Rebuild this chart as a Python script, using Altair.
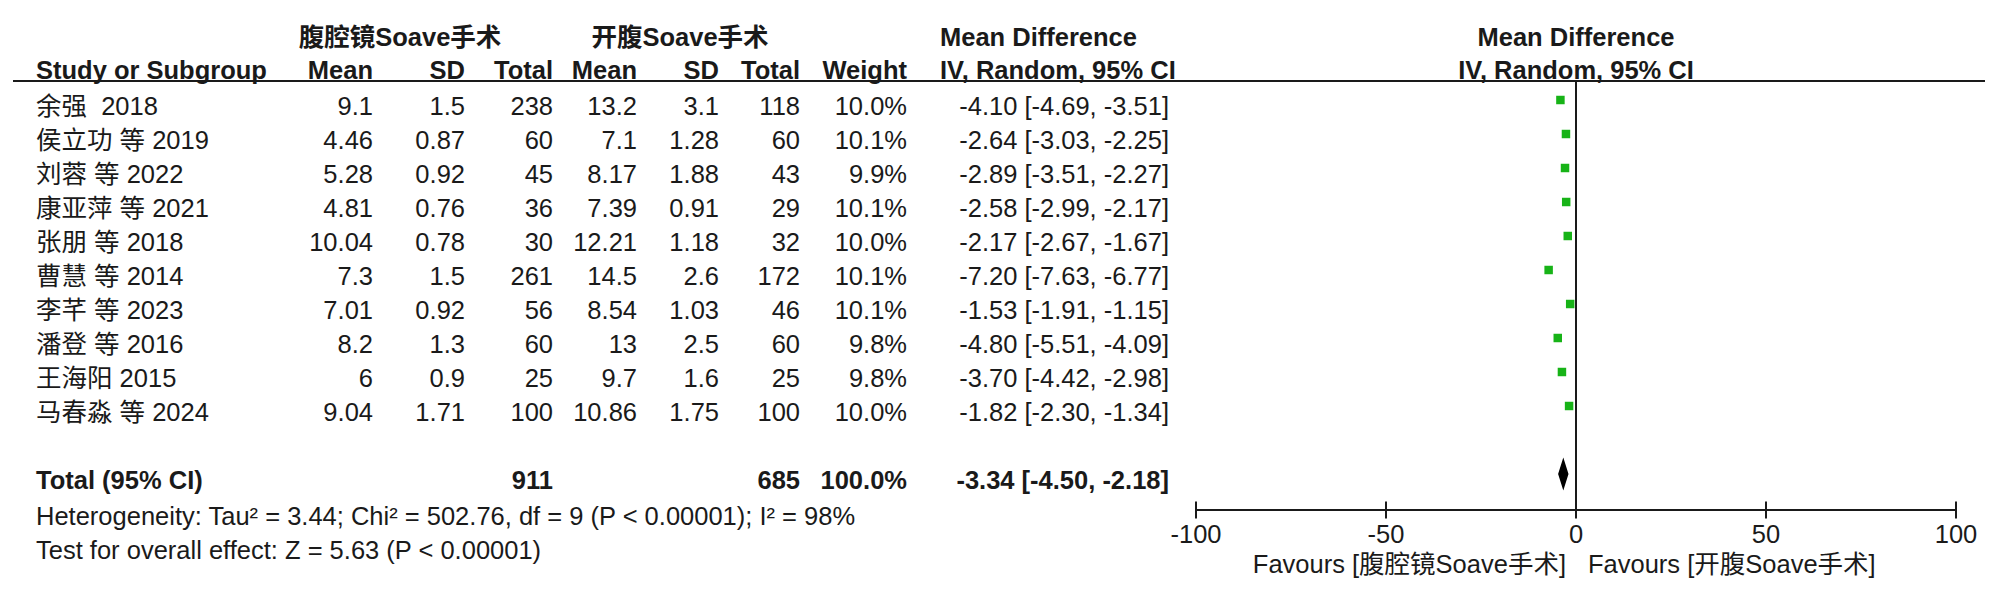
import altair as alt
import pandas as pd

# ---------------- data ----------------
studies = ["余强  2018", "侯立功 等 2019", "刘蓉 等 2022", "康亚萍 等 2021", "张朋 等 2018",
           "曹慧 等 2014", "李芊 等 2023", "潘登 等 2016", "王海阳 2015", "马春淼 等 2024"]
lap_mean = [9.1, 4.46, 5.28, 4.81, 10.04, 7.3, 7.01, 8.2, 6, 9.04]
lap_sd = [1.5, 0.87, 0.92, 0.76, 0.78, 1.5, 0.92, 1.3, 0.9, 1.71]
lap_n = [238, 60, 45, 36, 30, 261, 56, 60, 25, 100]
open_mean = [13.2, 7.1, 8.17, 7.39, 12.21, 14.5, 8.54, 13, 9.7, 10.86]
open_sd = [3.1, 1.28, 1.88, 0.91, 1.18, 2.6, 1.03, 2.5, 1.6, 1.75]
open_n = [118, 60, 43, 29, 32, 172, 46, 60, 25, 100]
weights = [10.0, 10.1, 9.9, 10.1, 10.0, 10.1, 10.1, 9.8, 9.8, 10.0]
md = [-4.10, -2.64, -2.89, -2.58, -2.17, -7.20, -1.53, -4.80, -3.70, -1.82]
ci_lo = [-4.69, -3.03, -3.51, -2.99, -2.67, -7.63, -1.91, -5.51, -4.42, -2.30]
ci_hi = [-3.51, -2.25, -2.27, -2.17, -1.67, -6.77, -1.15, -4.09, -2.98, -1.34]

total_lap_n = 911
total_open_n = 685
total_weight = 100.0
total_md = -3.34
total_lo = -4.50
total_hi = -2.18

group1 = "腹腔镜Soave手术"
group2 = "开腹Soave手术"
heterogeneity = "Heterogeneity: Tau² = 3.44; Chi² = 502.76, df = 9 (P < 0.00001); I² = 98%"
overall = "Test for overall effect: Z = 5.63 (P < 0.00001)"
tick_values = [-100, -50, 0, 50, 100]
tick_labels = ["-100", "-50", "0", "50", "100"]

# ---------------- layout / style ----------------
W, H = 1984, 578
ROW0 = 92      # chart-y of first study row centre
ROWH = 34      # row pitch in px
FONT = "Liberation Sans, Noto Sans CJK SC"
FS = 25.5
TXT = "#1a1a1a"
GREEN = "#17b317"


def rowpos(y_real):
    return (y_real - 8 - ROW0) / ROWH


px_per_unit = 3.80
x_zero = 1568  # chart px of 0
xmin = -x_zero / px_per_unit
xmax = xmin + W / px_per_unit

yscale = alt.Scale(domain=[-ROW0 / ROWH, (H - ROW0) / ROWH], reverse=True, zero=False, nice=False)
xscale = alt.Scale(domain=[xmin, xmax], zero=False, nice=False)


def fmt(v):
    return f"{v:g}"


rows = list(range(len(studies)))
table = pd.DataFrame({
    "row": rows,
    "study": [s.replace("  ", "\u00a0\u00a0") for s in studies],
    "m1": [fmt(v) for v in lap_mean],
    "s1": [fmt(v) for v in lap_sd],
    "n1": [str(v) for v in lap_n],
    "m2": [fmt(v) for v in open_mean],
    "s2": [fmt(v) for v in open_sd],
    "n2": [str(v) for v in open_n],
    "w": [f"{v:.1f}%" for v in weights],
    "ci": [f"{a:.2f} [{b:.2f}, {c:.2f}]" for a, b, c in zip(md, ci_lo, ci_hi)],
    "md": md,
    "lo": ci_lo,
    "hi": ci_hi,
})

TOTAL_ROW = 11
total = pd.DataFrame({
    "row": [TOTAL_ROW],
    "label": ["Total (95% CI)"],
    "n1": [str(total_lap_n)],
    "n2": [str(total_open_n)],
    "w": [f"{total_weight:.1f}%"],
    "ci": [f"{total_md:.2f} [{total_lo:.2f}, {total_hi:.2f}]"],
})

Y = alt.Y("row:Q", scale=yscale, axis=None)


def txt(df, field, x, align, bold=False, dy=15):
    return alt.Chart(df).mark_text(
        align=align, baseline="alphabetic", dy=dy, font=FONT, fontSize=FS,
        fontWeight="bold" if bold else "normal", color=TXT
    ).encode(x=alt.value(x), y=Y, text=f"{field}:N")


def label(text, x, y_real, align, bold=False):
    df = pd.DataFrame({"row": [rowpos(y_real)], "t": [text]})
    return txt(df, "t", x, align, bold, dy=0)


def label_at(text, xval, y_real, align, bold=False, dx=0):
    df = pd.DataFrame({"row": [rowpos(y_real)], "t": [text], "x": [xval]})
    return alt.Chart(df).mark_text(
        align=align, baseline="alphabetic", dx=dx, font=FONT, fontSize=FS,
        fontWeight="bold" if bold else "normal", color=TXT
    ).encode(x=alt.X("x:Q", scale=xscale, axis=None), y=Y, text="t:N")


# column right edges (chart px)
C_M1, C_S1, C_N1 = 365, 457, 545
C_M2, C_S2, C_N2 = 629, 711, 792
C_W = 899
C_CI_L = 932
C_CI_R = 1161
C_STUDY = 28

layers = []

# header rows
H1, H2 = 46, 79
layers += [
    label(group1, 392, H1, "center", True),
    label(group2, 672, H1, "center", True),
    label("Mean Difference", C_CI_L, H1, "left", True),
    label_at("Mean Difference", 0, H1, "center", True),
    label("Study or Subgroup", C_STUDY, H2, "left", True),
    label("Mean", C_M1, H2, "right", True),
    label("SD", C_S1, H2, "right", True),
    label("Total", C_N1, H2, "right", True),
    label("Mean", C_M2, H2, "right", True),
    label("SD", C_S2, H2, "right", True),
    label("Total", C_N2, H2, "right", True),
    label("Weight", C_W, H2, "right", True),
    label("IV, Random, 95% CI", C_CI_L, H2, "left", True),
    label_at("IV, Random, 95% CI", 0, H2, "center", True),
]

# header underline
hline = pd.DataFrame({"row": [rowpos(81)]})
layers.append(alt.Chart(hline).mark_rule(color=TXT, strokeWidth=2).encode(
    x=alt.value(5), x2=alt.value(1977), y=Y))

# study rows
layers += [
    txt(table, "study", C_STUDY, "left"),
    txt(table, "m1", C_M1, "right"),
    txt(table, "s1", C_S1, "right"),
    txt(table, "n1", C_N1, "right"),
    txt(table, "m2", C_M2, "right"),
    txt(table, "s2", C_S2, "right"),
    txt(table, "n2", C_N2, "right"),
    txt(table, "w", C_W, "right"),
    txt(table, "ci", C_CI_R, "right"),
]

# total row
layers += [
    txt(total, "label", C_STUDY, "left", True),
    txt(total, "n1", C_N1, "right", True),
    txt(total, "n2", C_N2, "right", True),
    txt(total, "w", C_W, "right", True),
    txt(total, "ci", C_CI_R, "right", True),
]

# footnotes
layers += [
    label(heterogeneity, C_STUDY, 525, "left"),
    label(overall, C_STUDY, 559, "left"),
]

# forest plot
AXIS_ROW = rowpos(510)
zero_df = pd.DataFrame({"x": [0], "row": [rowpos(81)], "row2": [AXIS_ROW]})
layers.append(alt.Chart(zero_df).mark_rule(color=TXT, strokeWidth=2).encode(
    x=alt.X("x:Q", scale=xscale, axis=None), y=Y, y2="row2:Q"))

axis_df = pd.DataFrame({"x": [tick_values[0]], "x2": [tick_values[-1]], "row": [AXIS_ROW]})
layers.append(alt.Chart(axis_df).mark_rule(color=TXT, strokeWidth=2).encode(
    x=alt.X("x:Q", scale=xscale, axis=None), x2="x2:Q", y=Y))

TICK = 8.5 / ROWH
ticks_df = pd.DataFrame({"x": tick_values, "row": [AXIS_ROW - TICK] * len(tick_values),
                         "row2": [AXIS_ROW + TICK] * len(tick_values), "t": tick_labels,
                         "lrow": [rowpos(543)] * len(tick_values)})
layers.append(alt.Chart(ticks_df).mark_rule(color=TXT, strokeWidth=2).encode(
    x=alt.X("x:Q", scale=xscale, axis=None), y=Y, y2="row2:Q"))
layers.append(alt.Chart(ticks_df).mark_text(
    align="center", baseline="alphabetic", font=FONT, fontSize=FS, color=TXT
).encode(x=alt.X("x:Q", scale=xscale, axis=None), y=alt.Y("lrow:Q", scale=yscale, axis=None), text="t:N"))

layers += [
    label_at(f"Favours [{group1}]", 0, 573, "right", dx=-10),
    label_at(f"Favours [{group2}]", 0, 573, "left", dx=12),
]

# CI lines and squares
layers.append(alt.Chart(table).mark_rule(color=TXT, strokeWidth=1.5).encode(
    x=alt.X("lo:Q", scale=xscale, axis=None), x2="hi:Q", y=Y))
layers.append(alt.Chart(table).mark_square(size=72, color=GREEN, opacity=1, strokeWidth=0).encode(
    x=alt.X("md:Q", scale=xscale, axis=None), y=Y))

# diamond
HALF = 14 / ROWH
diamond = pd.DataFrame({
    "x": [total_lo, total_md, total_hi],
    "row": [TOTAL_ROW, TOTAL_ROW - HALF, TOTAL_ROW],
    "row2": [TOTAL_ROW, TOTAL_ROW + HALF, TOTAL_ROW],
})
layers.append(alt.Chart(diamond).mark_area(color="black", opacity=1, stroke="black",
                                           strokeWidth=1.5, line=False).encode(
    x=alt.X("x:Q", scale=xscale, axis=None), y=Y, y2="row2:Q"))

chart = alt.layer(*layers).properties(
    width=W, height=H, autosize=alt.AutoSizeParams(type="none"), padding=0,
    background="white"
).configure_view(stroke=None)

chart.save("out.html", embed_options={"renderer": "svg", "actions": False})
